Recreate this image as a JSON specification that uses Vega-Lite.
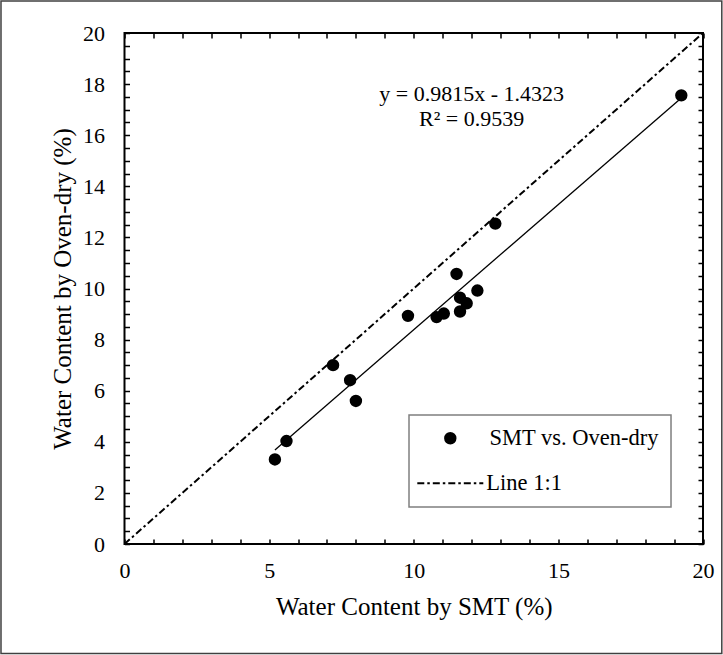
{
  "$schema": "https://vega.github.io/schema/vega-lite/v6.json",
  "width": 578.5,
  "height": 511,
  "autosize": {"type": "none"},
  "padding": {"left": 124.5, "top": 33, "right": 20, "bottom": 111},
  "background": "white",
  "config": {
    "view": {"stroke": "black", "strokeWidth": 2},
    "font": "Liberation Serif",
    "axis": {
      "labelFont": "Liberation Serif",
      "titleFont": "Liberation Serif",
      "labelColor": "black",
      "titleColor": "black",
      "domain": false,
      "tickColor": "black",
      "tickWidth": 1.5,
      "tickSize": 5,
      "grid": false,
      "labelFontSize": 22,
      "titleFontSize": 25,
      "titleFontWeight": "normal",
      "labelFlush": false,
      "labelOverlap": false
    },
    "legend": {"labelFont": "Liberation Serif", "labelFontSize": 22.5, "labelColor": "black", "labelLimit": 400, "padding": 0}
  },
  "datasets": {
    "obs": [
      {"smt": 5.2, "oven": 3.31, "series": "SMT vs. Oven-dry"},
      {"smt": 5.6, "oven": 4.03, "series": "SMT vs. Oven-dry"},
      {"smt": 7.21, "oven": 7.0, "series": "SMT vs. Oven-dry"},
      {"smt": 7.8, "oven": 6.41, "series": "SMT vs. Oven-dry"},
      {"smt": 8.0, "oven": 5.6, "series": "SMT vs. Oven-dry"},
      {"smt": 9.8, "oven": 8.93, "series": "SMT vs. Oven-dry"},
      {"smt": 10.79, "oven": 8.88, "series": "SMT vs. Oven-dry"},
      {"smt": 11.04, "oven": 9.02, "series": "SMT vs. Oven-dry"},
      {"smt": 11.48, "oven": 10.57, "series": "SMT vs. Oven-dry"},
      {"smt": 11.6, "oven": 9.64, "series": "SMT vs. Oven-dry"},
      {"smt": 11.6, "oven": 9.1, "series": "SMT vs. Oven-dry"},
      {"smt": 11.83, "oven": 9.42, "series": "SMT vs. Oven-dry"},
      {"smt": 12.2, "oven": 9.92, "series": "SMT vs. Oven-dry"},
      {"smt": 12.82, "oven": 12.54, "series": "SMT vs. Oven-dry"},
      {"smt": 19.25, "oven": 17.56, "series": "SMT vs. Oven-dry"}
    ],
    "oneToOne": [
      {"smt": 0, "oven": 0, "series": "Line 1:1"},
      {"smt": 20, "oven": 20, "series": "Line 1:1"}
    ]
  },
  "layer": [
    {
      "data": {"values": [{"part": "chart area"}]},
      "mark": {"type": "rect", "filled": false, "stroke": "#404040", "strokeWidth": 1.5, "clip": false},
      "encoding": {
        "x": {"datum": -4.27, "type": "quantitative", "scale": {"domain": [0, 20], "nice": false, "zero": false}, "axis": null},
        "x2": {"datum": 20.65},
        "y": {"datum": 21.25, "type": "quantitative", "scale": {"domain": [0, 20], "nice": false, "zero": false}, "axis": null},
        "y2": {"datum": -4.29}
      }
    },
    {
      "data": {"values": [{"part": "legend box"}]},
      "mark": {"type": "rect", "filled": false, "stroke": "#7f7f7f", "strokeWidth": 1.5},
      "encoding": {
        "x": {"datum": 9.836, "type": "quantitative", "scale": {"domain": [0, 20], "nice": false, "zero": false}, "axis": null},
        "x2": {"datum": 18.894},
        "y": {"datum": 5.049, "type": "quantitative", "scale": {"domain": [0, 20], "nice": false, "zero": false}, "axis": null},
        "y2": {"datum": 1.448}
      }
    },
    {
      "data": {"name": "oneToOne"},
      "mark": {"type": "line", "color": "black", "strokeWidth": 2},
      "encoding": {
        "x": {"field": "smt", "type": "quantitative", "scale": {"domain": [0, 20], "nice": false, "zero": false},
          "axis": {"orient": "top", "title": null, "labels": false, "offset": -5, "values": [0,1,2,3,4,5,6,7,8,9,10,11,12,13,14,15,16,17,18,19,20]}},
        "y": {"field": "oven", "type": "quantitative", "scale": {"domain": [0, 20], "nice": false, "zero": false},
          "axis": {"orient": "right", "title": null, "labels": false, "offset": -5, "values": [0,0.5,1,1.5,2,2.5,3,3.5,4,4.5,5,5.5,6,6.5,7,7.5,8,8.5,9,9.5,10,10.5,11,11.5,12,12.5,13,13.5,14,14.5,15,15.5,16,16.5,17,17.5,18,18.5,19,19.5,20]}},
        "strokeDash": {
          "field": "series", "type": "nominal",
          "scale": {"domain": ["Line 1:1"], "range": [[7, 3, 2.5, 3]]},
          "legend": {
            "title": null,
            "orient": "none",
            "legendX": 291.8,
            "legendY": 416.3,
            "symbolType": "stroke",
            "symbolSize": 4356,
            "symbolStrokeWidth": 2,
            "symbolStrokeColor": "black",
            "symbolOffset": 0,
            "labelOffset": 2
          }
        }
      }
    },
    {
      "data": {"name": "obs"},
      "transform": [{"regression": "oven", "on": "smt"}],
      "mark": {"type": "line", "color": "black", "strokeWidth": 1.3},
      "encoding": {
        "x": {"field": "smt", "type": "quantitative", "scale": {"domain": [0, 20], "nice": false, "zero": false},
          "axis": {"orient": "bottom", "title": null, "labels": false, "offset": -5, "values": [0,1,2,3,4,5,6,7,8,9,10,11,12,13,14,15,16,17,18,19,20]}},
        "y": {"field": "oven", "type": "quantitative", "scale": {"domain": [0, 20], "nice": false, "zero": false},
          "axis": {"orient": "left", "title": null, "labels": false, "offset": -5, "values": [0,0.5,1,1.5,2,2.5,3,3.5,4,4.5,5,5.5,6,6.5,7,7.5,8,8.5,9,9.5,10,10.5,11,11.5,12,12.5,13,13.5,14,14.5,15,15.5,16,16.5,17,17.5,18,18.5,19,19.5,20]}}
      }
    },
    {
      "data": {"name": "obs"},
      "mark": {"type": "point", "filled": true, "color": "black", "size": 154, "opacity": 1},
      "encoding": {
        "x": {"field": "smt", "type": "quantitative", "scale": {"domain": [0, 20], "nice": false, "zero": false},
          "axis": {"orient": "bottom", "title": "Water Content by SMT (%)", "ticks": false, "tickSize": 0, "values": [0, 5, 10, 15, 20],
            "format": "d", "labelPadding": 16, "titlePadding": 13}},
        "y": {"field": "oven", "type": "quantitative", "scale": {"domain": [0, 20], "nice": false, "zero": false},
          "axis": {"orient": "left", "title": "Water Content by Oven-dry (%)", "ticks": false, "tickSize": 0, "values": [0, 2, 4, 6, 8, 10, 12, 14, 16, 18, 20],
            "format": "d", "labelPadding": 20, "titlePadding": 7}},
        "shape": {
          "field": "series", "type": "nominal",
          "scale": {"domain": ["SMT vs. Oven-dry"], "range": ["circle"]},
          "legend": {
            "title": null,
            "orient": "none",
            "legendX": 291.8,
            "legendY": 394,
            "symbolSize": 154,
            "symbolOffset": 22.75,
            "labelOffset": 28
          }
        }
      }
    },
    {
      "data": {"values": [{"label": "y = 0.9815x - 1.4323"}]},
      "mark": {"type": "text", "font": "Liberation Serif", "fontSize": 22, "align": "center", "baseline": "alphabetic", "color": "black"},
      "encoding": {
        "text": {"field": "label"},
        "x": {"datum": 12.0, "type": "quantitative", "scale": {"domain": [0, 20], "nice": false, "zero": false}, "axis": null},
        "y": {"datum": 17.35, "type": "quantitative", "scale": {"domain": [0, 20], "nice": false, "zero": false}, "axis": null}
      }
    },
    {
      "data": {"values": [{"label": "R² = 0.9539"}]},
      "mark": {"type": "text", "font": "Liberation Serif", "fontSize": 22, "align": "center", "baseline": "alphabetic", "color": "black"},
      "encoding": {
        "text": {"field": "label"},
        "x": {"datum": 12.0, "type": "quantitative", "scale": {"domain": [0, 20], "nice": false, "zero": false}, "axis": null},
        "y": {"datum": 16.36, "type": "quantitative", "scale": {"domain": [0, 20], "nice": false, "zero": false}, "axis": null}
      }
    }
  ],
  "resolve": {"axis": {"x": "independent", "y": "independent"}}
}
